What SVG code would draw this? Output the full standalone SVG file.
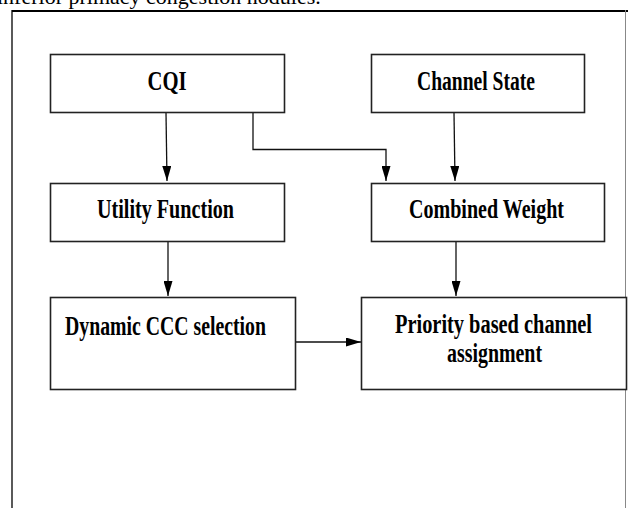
<svg xmlns="http://www.w3.org/2000/svg" width="628" height="508" viewBox="0 0 628 508">
<defs>
<style>
.box{fill:#fff;stroke:#222;stroke-width:1.6}
.lbl{font-family:"Liberation Serif","Times New Roman",serif;font-weight:bold;font-size:27px;fill:#000}
.con{fill:none;stroke:#111;stroke-width:1.3}
.cap{font-family:"Liberation Serif","Times New Roman",serif;font-size:22px;fill:#000}
</style>
<marker id="av" viewBox="0 0 15 9" refX="15" refY="4.5" markerWidth="15" markerHeight="9" markerUnits="userSpaceOnUse" orient="auto">
<path d="M0,0 L15,4.5 L0,9 Z" fill="#000"/>
</marker>
</defs>
<rect width="628" height="508" fill="#fff"/>
<text class="cap" x="-3" y="4">inferior primacy congestion nodules.</text>
<g id="frame">
<line x1="12" y1="11" x2="628" y2="11" stroke="#000" stroke-width="2"/>
<line x1="12" y1="10" x2="12" y2="508" stroke="#000" stroke-width="1.3"/>
<line x1="625.5" y1="10" x2="625.5" y2="508" stroke="#888" stroke-width="1"/>
</g>
<g id="connectors">
<line class="con" x1="166" y1="113" x2="167" y2="181" marker-end="url(#av)"/>
<polyline class="con" points="253,112 253,149.5 386,149.5 386,181" marker-end="url(#av)"/>
<line class="con" x1="454" y1="113" x2="455" y2="181" marker-end="url(#av)"/>
<line class="con" x1="168" y1="242" x2="168" y2="296" marker-end="url(#av)"/>
<line class="con" x1="456" y1="242" x2="456" y2="296" marker-end="url(#av)"/>
<line class="con" x1="295" y1="342" x2="361" y2="342" marker-end="url(#av)"/>
</g>
<g id="cqi">
<rect class="box" x="50.5" y="54.5" width="234" height="58"/>
<text class="lbl" x="167" y="90" text-anchor="middle" textLength="39" lengthAdjust="spacingAndGlyphs">CQI</text>
</g>
<g id="channel-state">
<rect class="box" x="371.5" y="54.5" width="213" height="58"/>
<text class="lbl" x="476" y="90" text-anchor="middle" textLength="118" lengthAdjust="spacingAndGlyphs">Channel State</text>
</g>
<g id="utility-function">
<rect class="box" x="50.5" y="183.5" width="234" height="58"/>
<text class="lbl" x="165.5" y="218" text-anchor="middle" textLength="137" lengthAdjust="spacingAndGlyphs">Utility Function</text>
</g>
<g id="combined-weight">
<rect class="box" x="371.5" y="183.5" width="233" height="58"/>
<text class="lbl" x="486.5" y="218" text-anchor="middle" textLength="155" lengthAdjust="spacingAndGlyphs">Combined Weight</text>
</g>
<g id="dynamic-ccc">
<rect class="box" x="50.5" y="297.5" width="245" height="92"/>
<text class="lbl" x="65" y="335" textLength="201" lengthAdjust="spacingAndGlyphs">Dynamic CCC selection</text>
</g>
<g id="priority">
<rect class="box" x="361.5" y="297.5" width="265" height="92"/>
<text class="lbl" x="493.5" y="333" text-anchor="middle" textLength="197" lengthAdjust="spacingAndGlyphs">Priority based channel</text>
<text class="lbl" x="494.5" y="362" text-anchor="middle" textLength="95" lengthAdjust="spacingAndGlyphs">assignment</text>
</g>
</svg>
